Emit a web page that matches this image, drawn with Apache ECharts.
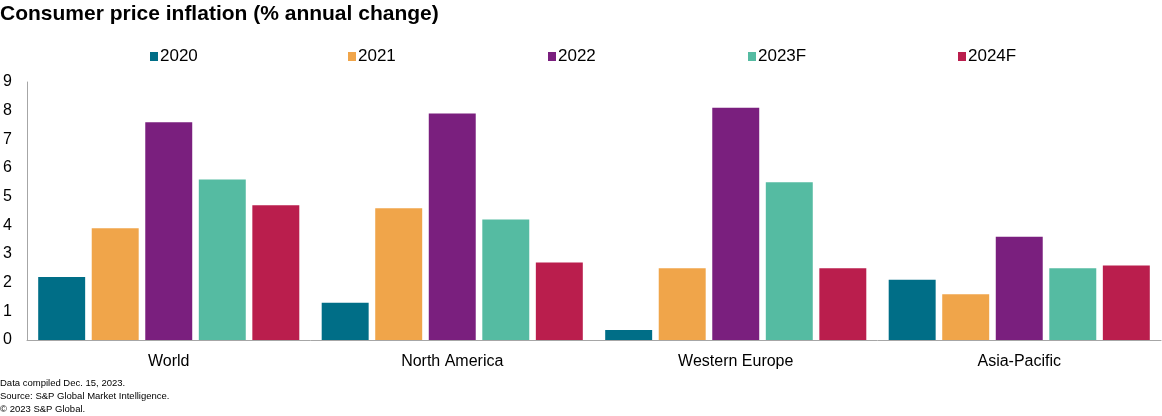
<!DOCTYPE html>
<html><head><meta charset="utf-8">
<script src="https://cdn.jsdelivr.net/npm/echarts@6/dist/echarts.min.js"></script>
<style>html,body{margin:0;padding:0;background:#fff}#c{width:1162px;height:416px}</style>
</head><body><div id="c"></div>
<script>
const categories = ['World', 'North America', 'Western Europe', 'Asia-Pacific'];
const seriesNames = ['2020', '2021', '2022', '2023F', '2024F'];
const v2020 = [2.2, 1.3, 0.35, 2.1];
const v2021 = [3.9, 4.6, 2.5, 1.6];
const v2022 = [7.6, 7.9, 8.1, 3.6];
const v2023F = [5.6, 4.2, 5.5, 2.5];
const v2024F = [4.7, 2.7, 2.5, 2.6];
const colors = ['#006E87', '#F0A54A', '#7A1F7E', '#55BBA2', '#BA1E4D'];
const values = [v2020, v2021, v2022, v2023F, v2024F];
const legendLeft = [145, 343, 543, 743, 953];
const FONT = '"Liberation Sans", Arial, sans-serif';

const chart = echarts.init(document.getElementById('c'));
chart.setOption({
  animation: false,
  color: colors,
  textStyle: { fontFamily: FONT },
  title: {
    text: 'Consumer price inflation (% annual change)',
    left: -5, top: -1,
    textStyle: { fontFamily: FONT, fontSize: 21, fontWeight: 'bold', color: '#000' }
  },
  graphic: [{
    type: 'text', left: 0, top: 377,
    style: {
      text: 'Data compiled Dec. 15, 2023.\nSource: S&P Global Market Intelligence.\n\u00A9 2023 S&P Global.',
      font: '9.5px "Liberation Sans", Arial, sans-serif', fill: '#000', lineHeight: 13
    }
  }],
  legend: seriesNames.map((n, i) => ({
    data: [n], left: legendLeft[i], top: 43,
    itemWidth: 8, itemHeight: 9, itemGap: 0,
    icon: 'rect',
    textStyle: { fontFamily: FONT, fontSize: 17, color: '#000', padding: [0, 0, 0, -3] }
  })),
  grid: { left: 27, right: 1, top: 82, bottom: 76 },
  xAxis: {
    type: 'category', data: categories,
    axisLine: { lineStyle: { color: '#A6A6A6', width: 1 } },
    axisTick: { show: false },
    axisLabel: { fontFamily: FONT, fontSize: 16, color: '#000', margin: 14 }
  },
  yAxis: {
    type: 'value', min: 0, max: 9, interval: 1,
    axisLine: { show: true, lineStyle: { color: '#A6A6A6', width: 1 } },
    axisTick: { show: false },
    splitLine: { show: false },
    axisLabel: { fontFamily: FONT, fontSize: 16, color: '#000', margin: 15 }
  },
  series: seriesNames.map((n, i) => ({
    name: n, type: 'bar', data: values[i],
    barGap: '14%', barCategoryGap: '7.9%',
    itemStyle: { color: colors[i] }
  }))
});
</script></body></html>
